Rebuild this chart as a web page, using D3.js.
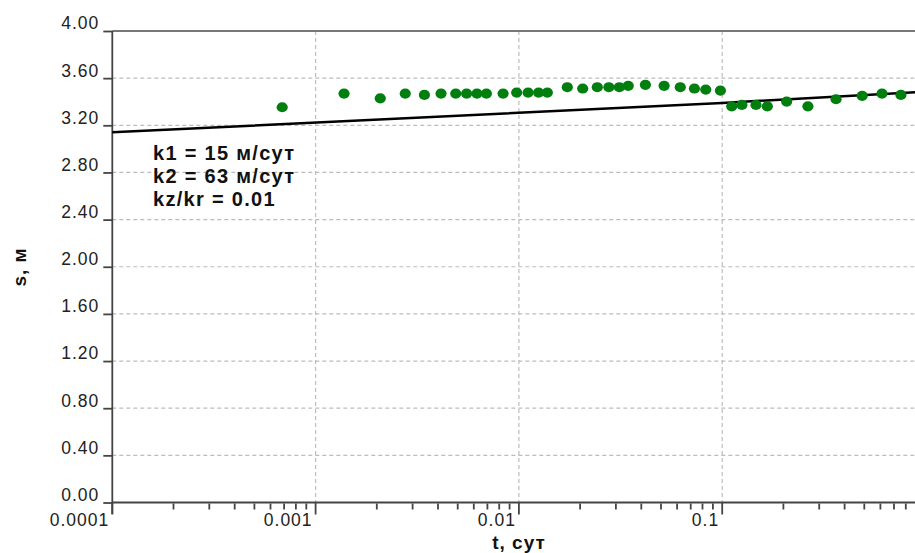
<!DOCTYPE html>
<html>
<head>
<meta charset="utf-8">
<script src="https://cdn.jsdelivr.net/npm/d3@7"></script>
<style>
  body { margin: 0; background: #fff; }
  svg { display: block; font-family: "Liberation Sans", Arial, sans-serif; }
</style>
</head>
<body>
<svg id="chart" width="915" height="553"></svg>
<script>
// measured points: time (days) and drawdown (m)
const tData = [0.000685, 0.00138, 0.00208, 0.00276, 0.00343, 0.00414, 0.00489, 0.00553, 0.00622,
  0.00692, 0.00836, 0.00975, 0.0111, 0.0125, 0.0138, 0.0173, 0.0206, 0.0243, 0.0277, 0.0312,
  0.0345, 0.0419, 0.0518, 0.0622, 0.073, 0.083, 0.098, 0.1114, 0.125, 0.1466, 0.1667, 0.2075,
  0.264, 0.363, 0.488, 0.611, 0.757];
const sData = [3.353, 3.469, 3.429, 3.469, 3.458, 3.469, 3.469, 3.469, 3.469,
  3.469, 3.469, 3.478, 3.478, 3.478, 3.478, 3.523, 3.512, 3.523, 3.523, 3.523,
  3.535, 3.543, 3.535, 3.523, 3.512, 3.503, 3.495, 3.361, 3.373, 3.373, 3.361, 3.401,
  3.361, 3.421, 3.450, 3.469, 3.458];

// fitted type curve
const fitT = [0.0001, 0.1, 1];
const fitS = [3.14, 3.39, 3.485];

const yTicks = [0, 0.4, 0.8, 1.2, 1.6, 2.0, 2.4, 2.8, 3.2, 3.6, 4.0];
const xMajor = [0.0001, 0.001, 0.01, 0.1, 1];
const xMajorLabels = ["0.0001", "0.001", "0.01", "0.1"]; // "1" falls off the right edge

const notes = ["k1 = 15 м/сут", "k2 = 63 м/сут", "kz/kr = 0.01"];

const svg = d3.select("#chart");
const plotLeft = 112.3, plotTop = 31, plotBottom = 502.5;

const x = d3.scaleLog().domain([0.0001, 1]).range([plotLeft, plotLeft + 4 * 203.3]);
const y = d3.scaleLinear().domain([0, 4]).range([plotBottom, plotTop]);

// minor ticks between decades
const xMinor = [];
xMajor.slice(0, -1).forEach(d => {
  for (let k = 2; k <= 9; k++) xMinor.push(d * k);
});

// grid
svg.append("g")
  .selectAll("line")
  .data(yTicks.filter(d => d > 0 && d < 4))
  .join("line")
  .attr("x1", plotLeft).attr("x2", 915)
  .attr("y1", d => y(d)).attr("y2", d => y(d))
  .attr("stroke", "#bdbdbd").attr("stroke-width", 1.2)
  .attr("stroke-dasharray", "4,3");

svg.append("g")
  .selectAll("line")
  .data(xMajor.slice(1, -1))
  .join("line")
  .attr("x1", d => x(d)).attr("x2", d => x(d))
  .attr("y1", plotTop).attr("y2", plotBottom)
  .attr("stroke", "#bdbdbd").attr("stroke-width", 1.2)
  .attr("stroke-dasharray", "4,3");

// top border
svg.append("line")
  .attr("x1", plotLeft).attr("x2", 915)
  .attr("y1", plotTop).attr("y2", plotTop)
  .attr("stroke", "#777").attr("stroke-width", 2);

// y axis
const yAxis = svg.append("g").attr("transform", `translate(${plotLeft},0)`)
  .call(d3.axisLeft(y).tickValues(yTicks).tickFormat(d3.format(".2f")).tickSize(9).tickPadding(0));
yAxis.select(".domain").attr("d", `M0,${plotTop}V514`).attr("stroke", "#444").attr("stroke-width", 1.8);
yAxis.selectAll(".tick line").attr("stroke", "#444").attr("stroke-width", 1.8);
yAxis.selectAll(".tick text")
  .attr("x", -13).attr("dy", "-0.12em")
  .attr("fill", "#222").style("font-size", "17.5px").style("letter-spacing", "1px");

// x axis
const xAxis = svg.append("g").attr("transform", `translate(0,${plotBottom})`);
xAxis.append("line")
  .attr("x1", plotLeft).attr("x2", 915).attr("y1", 0).attr("y2", 0)
  .attr("stroke", "#444").attr("stroke-width", 1.8);
xAxis.append("g").selectAll("line")
  .data(xMinor)
  .join("line")
  .attr("x1", d => x(d)).attr("x2", d => x(d))
  .attr("y1", 1).attr("y2", 7)
  .attr("stroke", "#444").attr("stroke-width", 1.8);
xAxis.append("g").selectAll("line")
  .data(xMajor)
  .join("line")
  .attr("x1", d => x(d)).attr("x2", d => x(d))
  .attr("y1", 0).attr("y2", 12)
  .attr("stroke", "#444").attr("stroke-width", 1.8);
xAxis.append("g").selectAll("text")
  .data(xMajorLabels)
  .join("text")
  .attr("x", (d, i) => x(xMajor[i]) - 3).attr("y", 23)
  .attr("text-anchor", "end")
  .attr("fill", "#222").style("font-size", "17.5px").style("letter-spacing", "1px")
  .text(d => d);

// axis titles
svg.append("text")
  .attr("x", 519).attr("y", 549)
  .attr("text-anchor", "middle")
  .style("font-size", "19px").style("font-weight", "bold").style("letter-spacing", "1px")
  .attr("fill", "#111")
  .text("t, сут");
svg.append("text")
  .attr("transform", "translate(26,267) rotate(-90)")
  .attr("text-anchor", "middle")
  .style("font-size", "19px").style("font-weight", "bold").style("letter-spacing", "1px")
  .attr("fill", "#111")
  .text("s, м");

// fitted line
svg.append("path")
  .datum(fitT.map((t, i) => [t, fitS[i]]))
  .attr("d", d3.line().x(d => x(d[0])).y(d => y(d[1])))
  .attr("fill", "none").attr("stroke", "#000").attr("stroke-width", 2.5);

// observed points
svg.append("g")
  .selectAll("ellipse")
  .data(tData.map((t, i) => [t, sData[i]]))
  .join("ellipse")
  .attr("cx", d => x(d[0])).attr("cy", d => y(d[1]))
  .attr("rx", 5.6).attr("ry", 5.1)
  .attr("fill", "#007f0e");

// parameters
svg.append("g")
  .selectAll("text")
  .data(notes)
  .join("text")
  .attr("x", 153).attr("y", (d, i) => 160 + i * 23)
  .style("font-size", "20px").style("font-weight", "bold").style("letter-spacing", "1.3px")
  .attr("fill", "#111")
  .text(d => d);
</script>
</body>
</html>
